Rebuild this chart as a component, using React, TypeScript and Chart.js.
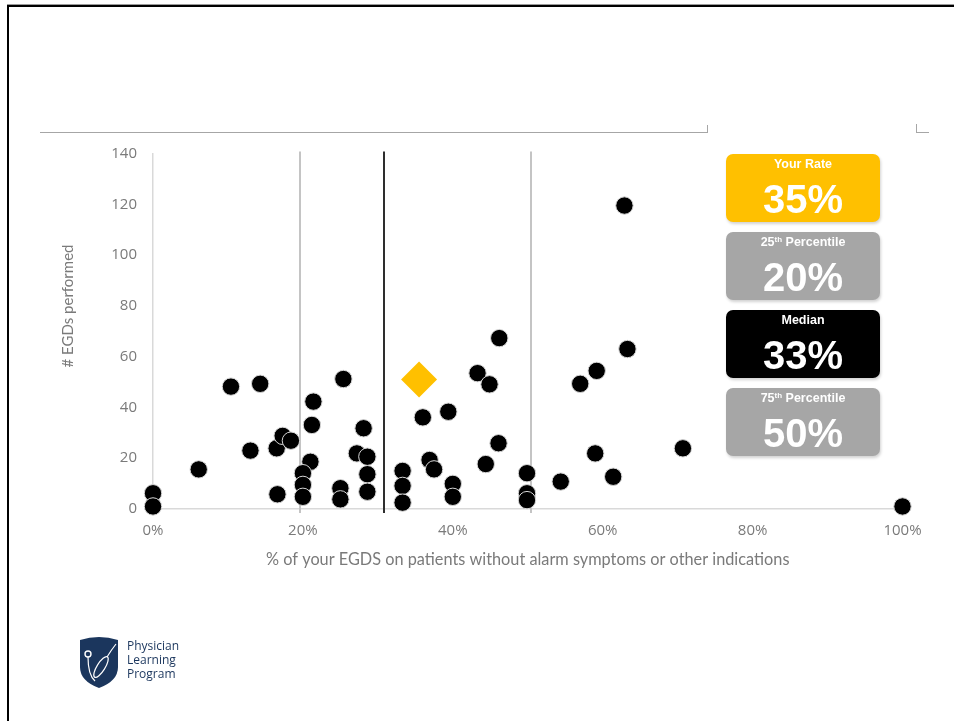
import React, { useEffect, useRef } from "react";
import { Chart, registerables } from "chart.js";

Chart.register(...registerables);

// ---- Data ----
const xTickValues = [0, 20, 40, 60, 80, 100];
const yTickValues = [0, 20, 40, 60, 80, 100, 120, 140];

const physicianPct = [
  0, 0, 6.1, 10.4, 14.3, 13.0, 16.5, 17.3, 18.4, 16.6,
  21.4, 21.2, 21.0, 20.0, 20.0, 20.0, 25.4, 25.0, 25.0, 28.1,
  27.2, 28.6, 28.6, 28.6, 33.3, 33.3, 33.3, 36.0, 39.4, 36.9,
  37.5, 40.0, 40.0, 43.3, 44.9, 46.2, 46.1, 44.4, 49.9, 49.9,
  49.9, 54.4, 57.0, 59.2, 59.0, 61.4, 62.9, 63.3, 70.7, 100,
];
const egdCount = [
  6.2, 1, 15.6, 48.2, 49.3, 23.0, 23.9, 28.8, 26.9, 5.8,
  42.3, 33.1, 18.6, 14.1, 9.5, 4.8, 51.2, 8.2, 3.8, 31.8,
  21.9, 20.6, 13.7, 6.8, 15.0, 9.1, 2.5, 36.1, 38.3, 19.3,
  15.6, 9.9, 4.8, 53.5, 49.1, 67.3, 25.9, 17.7, 14.1, 6.2,
  3.5, 10.8, 49.3, 54.4, 21.9, 12.7, 119.5, 63.0, 23.9, 1,
];

const yourRatePct = [35.5];
const yourRateCount = [51];

const refLineValues = [19.6, 30.8, 50.4];
const refLineColors = ["#c4c4c4", "#2e2e2e", "#c4c4c4"];

const statLabels = [["Your Rate"], ["25", "th", " Percentile"], ["Median"], ["75", "th", " Percentile"]];
const statValues = ["35%", "20%", "33%", "50%"];
const statColors = ["#FFC000", "#A6A6A6", "#000000", "#A6A6A6"];

const xTitle = "% of your EGDS on patients without alarm symptoms or other indications";
const yTitle = "# EGDs performed";
const logoLines = ["Physician", "Learning", "Program"];

const GRAY_TEXT = "#7a7a7a";

const refLinesPlugin = {
  id: "refLines",
  beforeDatasetsDraw(chart: any) {
    const { ctx, chartArea, scales } = chart;
    refLineValues.forEach((v, i) => {
      const x = Math.round(scales.x.getPixelForValue(v));
      ctx.save();
      ctx.strokeStyle = refLineColors[i];
      ctx.lineWidth = 2;
      ctx.beginPath();
      ctx.moveTo(x, chartArea.top - 2);
      ctx.lineTo(x, chartArea.bottom + 4);
      ctx.stroke();
      ctx.restore();
    });
  },
};

const yTitlePlugin = {
  id: "yTitleCustom",
  afterDraw(chart: any) {
    const { ctx } = chart;
    ctx.save();
    ctx.translate(68, 306);
    ctx.rotate(-Math.PI / 2);
    ctx.font = "15px Lato";
    ctx.fillStyle = GRAY_TEXT;
    ctx.textAlign = "center";
    ctx.textBaseline = "middle";
    ctx.fillText(yTitle, 0, 0);
    ctx.restore();
  },
};

function ChartCanvas() {
  const ref = useRef<HTMLCanvasElement | null>(null);
  useEffect(() => {
    if (!ref.current) return;
    const points = physicianPct.map((x, i) => ({ x, y: egdCount[i] }));
    const you = yourRatePct.map((x, i) => ({ x, y: yourRateCount[i] }));
    const chart = new Chart(ref.current, {
      type: "scatter",
      data: {
        datasets: [
          {
            label: "Your Rate",
            data: you,
            clip: false,
            pointStyle: "rectRot",
            pointRadius: 18,
            pointBackgroundColor: "#FFC000",
            pointBorderColor: "#FFC000",
            pointBorderWidth: 0,
          },
          {
            label: "Physicians",
            data: points,
            clip: false,
            pointStyle: "circle",
            pointRadius: 8.7,
            pointBackgroundColor: "#000000",
            pointBorderColor: "#d6d6d6",
            pointBorderWidth: 1,
          },
        ],
      },
      options: {
        animation: false,
        responsive: false,
        devicePixelRatio: 1,
        layout: { padding: { left: 60, right: 51.5, top: 153.5, bottom: 151.4 } },
        plugins: { legend: { display: false }, tooltip: { enabled: false } },
        scales: {
          x: {
            type: "linear",
            min: 0,
            max: 100,
            afterBuildTicks: (scale: any) => {
              scale.ticks = xTickValues.map((v) => ({ value: v }));
            },
            afterFit: (scale: any) => {
              scale.height = 60.6;
            },
            grid: { display: false, drawTicks: false },
            border: { display: true, color: "#d9d9d9", width: 1.5 },
            ticks: {
              padding: 13,
              color: GRAY_TEXT,
              font: { family: "'Open Sans'", size: 15 },
              callback: (v: any) => v + "%",
              maxRotation: 0,
            },
            title: {
              display: true,
              text: xTitle,
              color: GRAY_TEXT,
              font: { family: "Lato", size: 16.3 },
              padding: 0,
            },
          },
          y: {
            type: "linear",
            min: 0,
            max: 140,
            afterBuildTicks: (scale: any) => {
              scale.ticks = yTickValues.map((v) => ({ value: v }));
            },
            afterFit: (scale: any) => {
              scale.width = 93;
            },
            grid: { display: false, drawTicks: false },
            border: { display: true, color: "#d9d9d9", width: 1.5 },
            ticks: {
              padding: 16,
              color: GRAY_TEXT,
              font: { family: "'Open Sans'", size: 15 },
            },
          },
        },
      },
      plugins: [refLinesPlugin, yTitlePlugin],
    } as any);
    return () => chart.destroy();
  }, []);
  return (
    <canvas
      ref={ref}
      width={954}
      height={721}
      style={{ position: "absolute", left: 0, top: 0, width: 954, height: 721, display: "block" }}
    />
  );
}

function StatBox({ idx }: { idx: number }) {
  const parts = statLabels[idx];
  return (
    <div
      style={{
        position: "absolute",
        left: 726,
        top: 154 + idx * 78,
        width: 154,
        height: 68,
        borderRadius: 7,
        background: statColors[idx],
        boxShadow: "1px 2px 3px rgba(0,0,0,0.18)",
        color: "#ffffff",
        fontFamily: "'Liberation Sans', Arial, sans-serif",
        fontWeight: "bold",
        textAlign: "center",
      }}
    >
      <div style={{ position: "absolute", left: 0, right: 0, top: 1, lineHeight: "18px", fontSize: 12.5 }}>
        {parts[0]}
        {parts.length > 1 ? (
          <sup style={{ fontSize: 8, verticalAlign: "top", lineHeight: "14px" }}>{parts[1]}</sup>
        ) : null}
        {parts.length > 2 ? parts[2] : null}
      </div>
      <div style={{ position: "absolute", left: 0, right: 0, top: 24, lineHeight: "42px", fontSize: 40 }}>
        {statValues[idx]}
      </div>
    </div>
  );
}

function Logo() {
  return (
    <>
      <svg
        width={40}
        height={54}
        viewBox="0 0 40 54"
        style={{ position: "absolute", left: 79, top: 635 }}
      >
        <path d="M1 5 Q20 -1 39 5 L39 32 Q39 46 20 53 Q1 46 1 32 Z" fill="#1B365D" />
        <circle cx={9} cy={19} r={3} stroke="#ffffff" strokeWidth={1.4} fill="none" />
        <path d="M9 22 Q9 40 16 46" stroke="#ffffff" strokeWidth={1.2} fill="none" />
        <ellipse
          cx={22}
          cy={32}
          rx={12}
          ry={4}
          transform="rotate(-58 22 32)"
          stroke="#ffffff"
          strokeWidth={1.2}
          fill="none"
        />
        <path d="M28 22 Q33 14 37 9" stroke="#ffffff" strokeWidth={1.2} fill="none" />
      </svg>
      <div
        style={{
          position: "absolute",
          left: 127,
          top: 639,
          fontFamily: "'Open Sans', sans-serif",
          fontSize: 12,
          lineHeight: "14px",
          color: "#1B365D",
        }}
      >
        {logoLines.map((l) => (
          <div key={l}>{l}</div>
        ))}
      </div>
    </>
  );
}

export default function App() {
  return (
    <div
      style={{
        position: "absolute",
        left: 0,
        top: 0,
        width: 954,
        height: 721,
        background: "#ffffff",
        overflow: "hidden",
      }}
    >
      {/* page frame */}
      <div style={{ position: "absolute", left: 7, top: 4, width: 947, height: 1, background: "#9a9a9a" }} />
      <div style={{ position: "absolute", left: 7, top: 5, width: 947, height: 2, background: "#000" }} />
      <div style={{ position: "absolute", left: 7, top: 5, width: 2, height: 716, background: "#000" }} />
      {/* header rule */}
      <div style={{ position: "absolute", left: 40, top: 132, width: 668, height: 1, background: "#a6a6a6" }} />
      <div style={{ position: "absolute", left: 707, top: 125, width: 1, height: 8, background: "#a6a6a6" }} />
      <div style={{ position: "absolute", left: 916, top: 124, width: 1, height: 9, background: "#a6a6a6" }} />
      <div style={{ position: "absolute", left: 916, top: 132, width: 13, height: 1, background: "#a6a6a6" }} />
      <ChartCanvas />
      {statValues.map((_, i) => (
        <StatBox key={i} idx={i} />
      ))}
      <Logo />
    </div>
  );
}
